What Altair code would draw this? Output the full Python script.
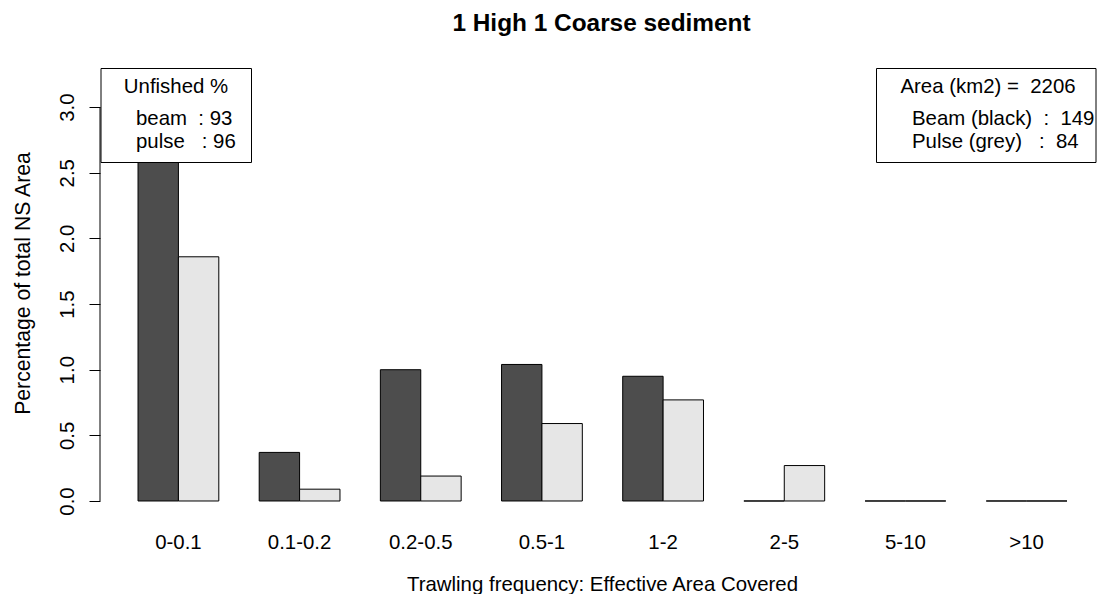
import altair as alt
import pandas as pd

categories = ["0-0.1", "0.1-0.2", "0.2-0.5", "0.5-1", "1-2", "2-5", "5-10", ">10"]
beam = [3.18, 0.37, 1.00, 1.04, 0.95, 0.0, 0.0, 0.0]
pulse = [1.86, 0.09, 0.19, 0.59, 0.77, 0.27, 0.0, 0.0]
gears = ["Beam", "Pulse"]
gear_colors = ["#4d4d4d", "#e6e6e6"]
y_ticks = [0.0, 0.5, 1.0, 1.5, 2.0, 2.5, 3.0]

NB = "\u00a0"
title_text = "1 High 1 Coarse sediment"
x_title = "Trawling frequency: Effective Area Covered"
y_title = "Percentage of total NS Area"
left_legend_title = "Unfished %"
left_legend_lines = ["beam" + NB + " : 93", "pulse" + NB + NB + " : 96"]
right_legend_title = "Area (km2) =" + NB + " 2206"
right_legend_lines = ["Beam (black)" + NB + " :" + NB + " 149", "Pulse (grey)" + NB + NB + " :" + NB + " 84"]

FONT = "Liberation Sans"
FS = 20.4
W, H = 997, 450

rows = []
for c, b, p in zip(categories, beam, pulse):
    rows.append({"category": c, "gear": "Beam", "value": b})
    rows.append({"category": c, "gear": "Pulse", "value": p})
df = pd.DataFrame(rows)

yscale = alt.Scale(domain=[-0.1295, 3.298], nice=False, zero=False)

bars = alt.Chart(df).mark_bar(stroke="black", strokeWidth=1, opacity=1).encode(
    x=alt.X(
        "category:N",
        sort=categories,
        scale=alt.Scale(paddingInner=1 / 3, paddingOuter=0.2807, align=0.559),
        axis=alt.Axis(
            title=x_title,
            domain=False,
            ticks=False,
            tickSize=0,
            labelAngle=0,
            labelFont=FONT,
            labelFontSize=FS,
            labelColor="black",
            labelBaseline="alphabetic",
            labelPadding=30,
            titleFont=FONT,
            titleFontSize=FS,
            titleFontWeight="normal",
            titleColor="black",
            titleBaseline="alphabetic",
            titleY=72,
            titleX=502,
            titleAlign="center",
        ),
    ),
    xOffset=alt.XOffset("gear:N", sort=gears, scale=alt.Scale(paddingInner=0, paddingOuter=0)),
    y=alt.Y(
        "value:Q",
        scale=yscale,
        axis=alt.Axis(
            title=y_title,
            values=y_ticks,
            format=".1f",
            domain=False,
            grid=False,
            tickSize=11,
            tickColor="black",
            tickWidth=1,
            labelAngle=-90,
            labelAlign="center",
            labelBaseline="alphabetic",
            labelPadding=16,
            labelFont=FONT,
            labelFontSize=FS,
            labelColor="black",
            titleFont=FONT,
            titleFontSize=21.2,
            titleFontWeight="normal",
            titleColor="black",
            titleAngle=-90,
            titleAlign="center",
            titleBaseline="alphabetic",
            titleX=-71,
            titleY=215,
        ),
    ),
    fill=alt.Fill("gear:N", scale=alt.Scale(domain=gears, range=gear_colors), legend=None),
)

axis_line = alt.Chart(pd.DataFrame({"a": [0]})).mark_rule(color="black", strokeWidth=1).encode(
    x=alt.value(0),
    y=alt.datum(0.0),
    y2=alt.datum(3.0),
)

box_df = pd.DataFrame({"a": [0]})
left_box = alt.Chart(box_df).mark_rect(fill="white", stroke="black", strokeWidth=1).encode(
    x=alt.value(1), x2=alt.value(151.5), y=alt.value(0.5), y2=alt.value(94.5)
)
right_box = alt.Chart(box_df).mark_rect(fill="white", stroke="black", strokeWidth=1).encode(
    x=alt.value(776.5), x2=alt.value(996), y=alt.value(0.5), y2=alt.value(94.5)
)

def text_layer(txt, x, y, align, size=FS, weight="normal"):
    return alt.Chart(pd.DataFrame({"t": [txt]})).mark_text(
        font=FONT, fontSize=size, fontWeight=weight, color="black",
        align=align, baseline="alphabetic",
    ).encode(text="t:N", x=alt.value(x), y=alt.value(y))

texts = [
    text_layer(title_text, 501.5, -37.5, "center", size=24.4, weight="bold"),
    text_layer(left_legend_title, 76, 25, "center"),
    text_layer(left_legend_lines[0], 36, 56.5, "left"),
    text_layer(left_legend_lines[1], 36, 80, "left"),
    text_layer(right_legend_title, 888, 25, "center"),
    text_layer(right_legend_lines[0], 812, 56.5, "left"),
    text_layer(right_legend_lines[1], 812, 80, "left"),
]

chart = alt.layer(bars, axis_line, left_box, right_box, *texts).properties(
    width=W,
    height=H,
    autosize=alt.AutoSizeParams(type="none"),
    padding={"left": 92, "top": 60, "right": 0, "bottom": 76},
).configure(
    background="white",
    view=alt.ViewConfig(stroke="transparent", strokeWidth=0),
)

chart.save("out.html", embed_options={"renderer": "svg", "actions": False})
